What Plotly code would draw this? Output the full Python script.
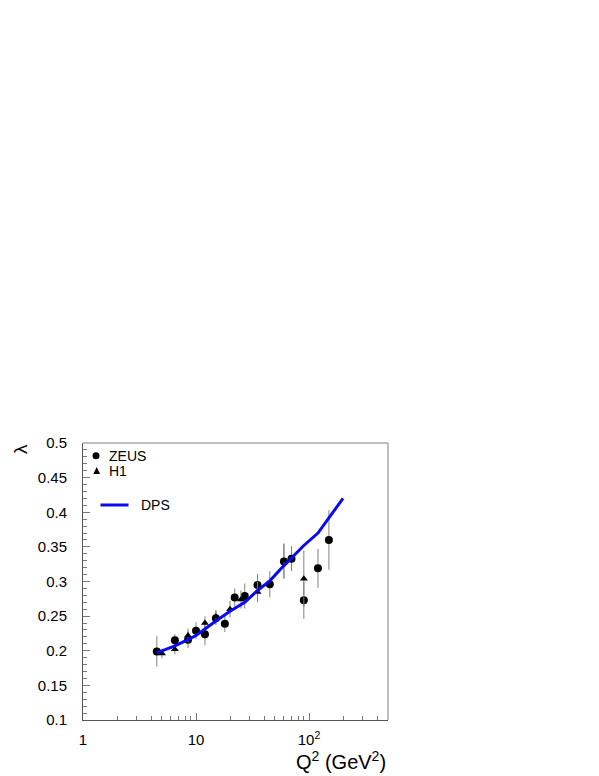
import plotly.graph_objects as go

# ZEUS data
zeus_q2 = [4.5, 6.5, 8.5, 10, 12, 15, 18, 22, 27, 35, 45, 60, 70, 90, 120, 150]
zeus_lam = [0.199, 0.215, 0.216, 0.229, 0.224, 0.247, 0.239, 0.277, 0.279,
            0.295, 0.296, 0.329, 0.333, 0.273, 0.319, 0.360]
zeus_err = [0.022, 0.009, 0.012, 0.012, 0.016, 0.010, 0.012, 0.013, 0.018,
            0.016, 0.019, 0.025, 0.018, 0.027, 0.028, 0.043]

# H1 data
h1_q2 = [5, 6.5, 8.5, 12, 15, 20, 25, 35, 60, 90]
h1_lam = [0.196, 0.202, 0.222, 0.240, 0.249, 0.260, 0.274, 0.285, 0.330, 0.304]
h1_err = [0.007, 0.007, 0.010, 0.010, 0.010, 0.012, 0.013, 0.015, 0.025, 0.041]

# DPS curve
dps_q2 = [4.5, 6.5, 8.5, 10, 15, 20, 27, 35, 45, 60, 90, 120, 150, 200]
dps_lam = [0.197, 0.207, 0.216, 0.222, 0.243, 0.257, 0.270, 0.287, 0.301,
           0.323, 0.352, 0.370, 0.392, 0.420]

y_major = [0.1, 0.15, 0.2, 0.25, 0.3, 0.35, 0.4, 0.45, 0.5]
y_labels = ["0.1", "0.15", "0.2", "0.25", "0.3", "0.35", "0.4", "0.45", "0.5"]
x_major = [1, 10, 100]
x_labels = ["1", "10", "10<sup>2</sup>"]
x_minor = [2, 3, 4, 5, 6, 7, 8, 9, 20, 30, 40, 50, 60, 70, 80, 90, 200, 300, 400]

font = "Liberation Sans, Arial, sans-serif"
errcol = "#808080"

fig = go.Figure()
fig.add_trace(go.Scatter(
    x=zeus_q2, y=zeus_lam, mode="markers", name="ZEUS",
    marker=dict(symbol="circle", size=8, color="black"),
    error_y=dict(type="data", array=zeus_err, color=errcol, thickness=1, width=0)))
fig.add_trace(go.Scatter(
    x=h1_q2, y=h1_lam, mode="markers", name="H1",
    marker=dict(symbol="triangle-up", size=7, color="black"),
    error_y=dict(type="data", array=h1_err, color=errcol, thickness=1, width=0)))
fig.add_trace(go.Scatter(
    x=dps_q2, y=dps_lam, mode="lines", name="DPS",
    line=dict(color="#0a0af0", width=3)))

# pixel -> paper helpers (plot area 83..388 x 443..720 on screen)
def px(x):
    return (x - 83) / 305

def py(y):
    return (720 - y) / 277

# hand-made legend
fig.add_shape(type="circle", xref="paper", yref="paper",
              x0=px(92.5), x1=px(99.5), y0=py(459.3), y1=py(452.3),
              fillcolor="black", line=dict(width=0))
fig.add_shape(type="path", xref="paper", yref="paper",
              path="M %f %f L %f %f L %f %f Z" % (px(93.3), py(474), px(100.1), py(474), px(96.7), py(467)),
              fillcolor="black", line=dict(width=0))
fig.add_shape(type="line", xref="paper", yref="paper",
              x0=px(100.5), x1=px(128.5), y0=py(505), y1=py(505),
              line=dict(color="#0a0af0", width=3))
for txt, x, y in [("ZEUS", 107, 456), ("H1", 107, 471), ("DPS", 139, 505)]:
    fig.add_annotation(text=txt, xref="paper", yref="paper", x=px(x), y=py(y),
                       xanchor="left", yanchor="middle", showarrow=False,
                       font=dict(size=14, color="black", family=font))

fig.add_annotation(text="λ", xref="paper", yref="paper", x=px(20), y=py(449),
                   xanchor="center", yanchor="middle", showarrow=False, textangle=-90,
                   font=dict(size=19, color="black", family=font))
fig.add_annotation(text="Q<sup>2</sup> (GeV<sup>2</sup>)", xref="paper", yref="paper",
                   x=1.0, y=py(760), xanchor="right", yanchor="middle", showarrow=False,
                   font=dict(size=20, color="black", family=font))

fig.update_xaxes(type="log", range=[0, 2.699], tickmode="array", tickvals=x_major,
                 ticktext=x_labels, ticks="inside", ticklen=7, tickcolor="#777",
                 showline=True, linecolor="#555", linewidth=1, mirror=False,
                 showgrid=False, zeroline=False, ticklabelstandoff=6,
                 tickfont=dict(size=15, color="black", family=font),
                 minor=dict(tickmode="array", tickvals=x_minor, ticks="inside",
                            ticklen=4, tickcolor="#777", showgrid=False))
fig.update_yaxes(range=[0.1, 0.5], tickmode="array", tickvals=y_major,
                 ticktext=y_labels, ticks="inside", ticklen=7, tickcolor="#777",
                 showline=True, linecolor="#555", linewidth=1, mirror=False,
                 showgrid=False, zeroline=False, ticklabelstandoff=12,
                 tickfont=dict(size=15, color="black", family=font),
                 minor=dict(dtick=0.01, ticks="inside", ticklen=4,
                            tickcolor="#777", showgrid=False))

# top/right frame in lighter gray
fig.add_shape(type="line", xref="paper", yref="paper", x0=0, x1=1, y0=1, y1=1,
              line=dict(color="#aaa", width=1.5))
fig.add_shape(type="line", xref="paper", yref="paper", x0=1, x1=1, y0=0, y1=1,
              line=dict(color="#aaa", width=1.5))

# the page body adds an 8px offset, so margins are shifted by 8px
fig.update_layout(width=599, height=776, showlegend=False,
                  plot_bgcolor="white", paper_bgcolor="white",
                  margin=dict(l=75, r=219, t=435, b=64, autoexpand=False),
                  font=dict(family=font, color="black"))

fig.write_html("out.html")
